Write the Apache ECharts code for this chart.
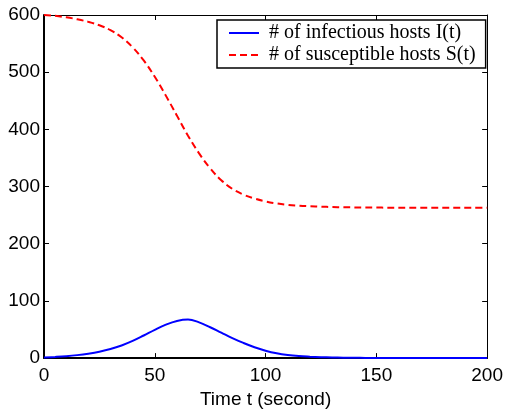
<!DOCTYPE html>
<html>
<head>
<meta charset="utf-8">
<script src="https://cdn.jsdelivr.net/npm/echarts@6/dist/echarts.min.js"></script>
<style>
html,body{margin:0;padding:0;background:#fff;}
#c{width:506px;height:414px;}
</style>
</head>
<body>
<div id="c"></div>
<script>
var timeT = [0,5,10,15,20,25,30,35,40,45,50,55,60,65,70,75,80,85,90,95,100,105,110,115,120,125,130,135,140,145,150,155,160,165,170,175,180,185,190,195,200];
var infectious = [1,2,3.3,5.2,7.8,11.2,15.8,22,30,39.5,49.5,58.5,65,67.5,62.5,54,44.5,35,26.5,19,13,8.5,5.5,3.6,2.5,1.7,1.1,0.75,0.5,0.35,0.25,0.18,0.13,0.1,0.07,0.05,0.04,0.03,0.02,0.02,0.01];
var susceptible = [600,598.5,596,592.5,588,582,573.5,561,543.5,520.5,492,459,424,389,358,332,311,296,286,279,274,270.5,268,266.5,265.5,264.8,264.2,263.8,263.5,263.3,263.2,263.1,263,263,263,263,263,263,263,263,263];
var xTicks = {min:0, max:200, interval:50};
var yTicks = {min:0, max:600, interval:100};
var seriesNames = ['# of infectious hosts I(t)', '# of susceptible hosts S(t)'];
var xName = 'Time t (second)';

function pairs(v){ return timeT.map(function(t,i){ return [t, v[i]]; }); }

var chart = echarts.init(document.getElementById('c'), null, {renderer:'canvas'});
var sansFont = 'Liberation Sans, Arial, sans-serif';
var tickCommon = {show:true, inside:true, length:5, lineStyle:{color:'#000', width:1}};
chart.setOption({
  animation:false,
  backgroundColor:'#fff',
  grid:{left:44, right:18, top:15, bottom:49},
  legend:{
    orient:'vertical', left:217, top:20,
    backgroundColor:'#fff', borderColor:'#000', borderWidth:1.5, borderRadius:0,
    padding:[3,10,3,11], itemGap:2, itemWidth:30, itemHeight:14,
    itemStyle:{opacity:0},
    textStyle:{fontFamily:'Liberation Serif, Times New Roman, serif', fontSize:20, color:'#000', padding:[0,0,0,5]},
    data:seriesNames
  },
  xAxis:[
    {type:'value', position:'bottom', min:xTicks.min, max:xTicks.max, interval:xTicks.interval,
     name:xName, nameLocation:'middle', nameGap:29,
     nameTextStyle:{fontFamily:sansFont, fontSize:19, color:'#000'},
     axisLine:{show:true, onZero:false, lineStyle:{color:'#000', width:2}},
     axisTick:tickCommon, splitLine:{show:false},
     axisLabel:{fontFamily:sansFont, fontSize:19, color:'#000', margin:8}},
    {type:'value', position:'top', min:xTicks.min, max:xTicks.max, interval:xTicks.interval,
     axisLine:{show:true, onZero:false, lineStyle:{color:'#000', width:1}},
     axisTick:tickCommon, splitLine:{show:false}, axisLabel:{show:false}}
  ],
  yAxis:[
    {type:'value', position:'left', min:yTicks.min, max:yTicks.max, interval:yTicks.interval,
     axisLine:{show:true, onZero:false, lineStyle:{color:'#000', width:2}},
     axisTick:tickCommon, splitLine:{show:false},
     axisLabel:{fontFamily:sansFont, fontSize:19, color:'#000', margin:4}},
    {type:'value', position:'right', min:yTicks.min, max:yTicks.max, interval:yTicks.interval,
     axisLine:{show:true, onZero:false, lineStyle:{color:'#000', width:1}},
     axisTick:tickCommon, splitLine:{show:false}, axisLabel:{show:false}}
  ],
  series:[
    {name:seriesNames[0], type:'line', data:pairs(infectious), smooth:0.4, showSymbol:false, symbol:'none',
     lineStyle:{color:'#0000ff', width:2, type:'solid'}, itemStyle:{color:'#0000ff'}, z:3},
    {name:seriesNames[1], type:'line', data:pairs(susceptible), smooth:0.4, showSymbol:false, symbol:'none',
     lineStyle:{color:'#ff0000', width:2, type:[7,4]}, itemStyle:{color:'#ff0000'}, z:2}
  ]
});
</script>
</body>
</html>
